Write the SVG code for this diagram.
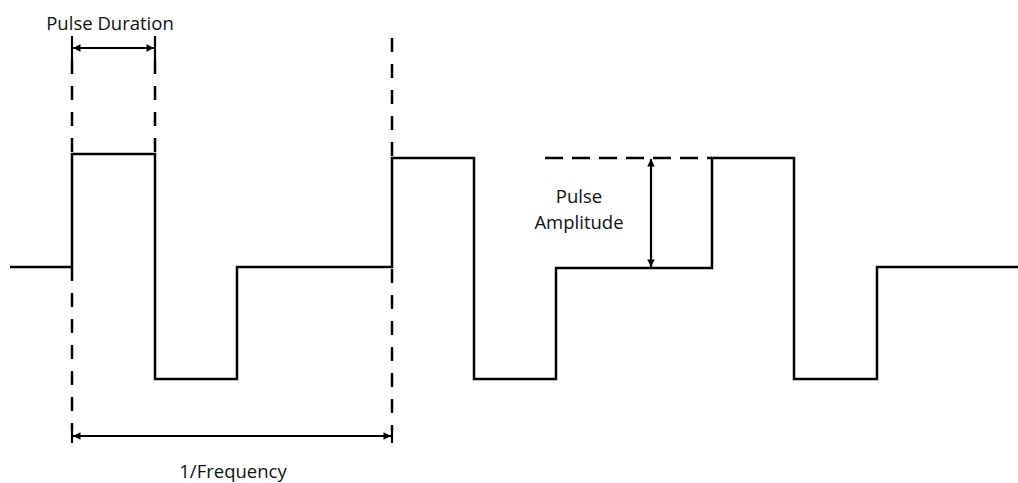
<svg xmlns="http://www.w3.org/2000/svg" width="1018" height="483" viewBox="0 0 1018 483">
<style>
.wave{fill:none;stroke:#000;stroke-width:2.5;stroke-linejoin:miter}
.dash{fill:none;stroke:#000;stroke-width:2.5;stroke-dasharray:14 12}
.hdash{fill:none;stroke:#000;stroke-width:2.5;stroke-dasharray:18 9}
.dim{fill:none;stroke:#000;stroke-width:2.2}
.lbl{font-family:"Open Sans","Liberation Sans",sans-serif;font-size:18.5px;fill:#111;text-anchor:middle}
</style>
<defs>
<marker id="ah" viewBox="0 0 10 10" refX="10" refY="5" markerWidth="4" markerHeight="3.4" orient="auto-start-reverse" markerUnits="strokeWidth">
<path d="M0,0 L10,5 L0,10 z" fill="#000"/>
</marker>
</defs>
<g id="waveform">
<path class="wave" d="M10,267 H72 V154 H155 V379 H237 V267 H392 V158 H474 V379 H556 V268 H712 V158 H794 V379 H877 V267 H1018"/>
</g>
<g id="guides">
<line class="dash" x1="72" y1="60" x2="72" y2="154"/>
<line class="dash" x1="155" y1="60" x2="155" y2="154"/>
<line class="dash" x1="72" y1="267" x2="72" y2="430"/>
<line class="dash" x1="392" y1="38" x2="392" y2="158"/>
<line class="dash" x1="392" y1="269" x2="392" y2="430"/>
<line class="hdash" x1="545" y1="158" x2="712" y2="158"/>
</g>
<g id="connectors">
<line class="dim" x1="72" y1="36" x2="72" y2="60"/>
<line class="dim" x1="155" y1="36" x2="155" y2="60"/>
<line class="dim" x1="73" y1="48" x2="154" y2="48" marker-start="url(#ah)" marker-end="url(#ah)"/>
<line class="dim" x1="72" y1="428" x2="72" y2="443"/>
<line class="dim" x1="392" y1="428" x2="392" y2="443"/>
<line class="dim" x1="73" y1="436" x2="391" y2="436" marker-start="url(#ah)" marker-end="url(#ah)"/>
<line class="dim" x1="651" y1="159" x2="651" y2="267" marker-start="url(#ah)" marker-end="url(#ah)"/>
</g>
<g id="label-pulse-duration"><text class="lbl" x="110" y="30">Pulse Duration</text></g>
<g id="label-pulse-amplitude"><text class="lbl" x="579" y="203">Pulse</text><text class="lbl" x="579" y="229">Amplitude</text></g>
<g id="label-frequency"><text class="lbl" x="233" y="478">1/Frequency</text></g>
</svg>
